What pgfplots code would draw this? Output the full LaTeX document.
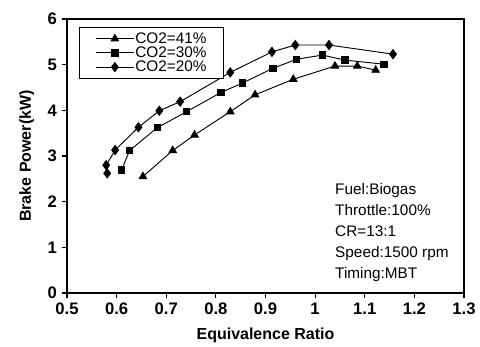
\documentclass[border=0pt]{standalone}
\usepackage{fontspec}
\setmainfont{Liberation Sans}
\usepackage{pgfplots}
\pgfplotsset{compat=1.18}
\begin{document}
\begin{tikzpicture}
\useasboundingbox (-50.25pt,-40.5pt) rectangle (309.75pt,219.75pt);
\begin{axis}[
  at={(0,0)}, anchor=south west,
  scale only axis, width=297.75pt, height=205.5pt,
  xmin=0.5, xmax=1.3, ymin=0, ymax=6,
  xtick={0.5,0.6,0.7,0.8,0.9,1,1.1,1.2,1.3},
  ytick={0,1,2,3,4,5,6},
  tick align=outside, tick pos=left,
  major tick length=4pt,
  tick style={black, line width=0.8pt},
  axis line style={line width=1pt},
  /pgf/number format/assume math mode=true,
  ticklabel style={font=\fontsize{12.5}{14}\selectfont\bfseries},
  xlabel={Equivalence Ratio},
  ylabel={Brake Power(kW)},
  label style={font=\fontsize{12}{14}\selectfont\bfseries},
  xlabel style={at={(axis description cs:0.5,-0.168)}, anchor=base},
  ylabel style={at={(axis description cs:-0.0907,0.5)}, anchor=base, rotate=0},
  legend style={at={(axis description cs:0.03,0.97)}, anchor=north west,
    draw=black, line width=0.8pt, font=\fontsize{11.5}{12}\selectfont,
    inner xsep=12pt, inner ysep=3pt, row sep=0pt,
    nodes={inner sep=0.8pt, text height=8pt, text depth=1pt}},
  legend cell align=left,
  legend image code/.code={\draw[mark repeat=2,mark phase=2] plot coordinates {(0cm,0cm)(0.5cm,0cm)(1cm,0cm)};},
]
\addplot[black, line width=0.7pt, mark=triangle*, mark size=3.2pt, mark options={solid,fill=black}] coordinates {
(0.653,2.55) (0.713,3.12) (0.757,3.46) (0.829,3.97) (0.879,4.34) (0.956,4.68) (1.040,4.97) (1.085,4.97) (1.122,4.88)};
\addlegendentry{CO2=41\%}
\addplot[black, line width=0.7pt, mark=square*, mark size=2.4pt, mark options={solid,fill=black}] coordinates {
(0.610,2.69) (0.626,3.12) (0.682,3.62) (0.741,3.97) (0.810,4.39) (0.854,4.60) (0.915,4.92) (0.963,5.12) (1.015,5.21) (1.060,5.10) (1.139,5.01)};
\addlegendentry{CO2=30\%}
\addplot[black, line width=0.7pt, mark=diamond*, mark size=3.4pt, mark options={solid,fill=black}] coordinates {
(0.581,2.62) (0.579,2.80) (0.597,3.13) (0.644,3.63) (0.686,3.99) (0.728,4.19) (0.829,4.83) (0.913,5.28) (0.960,5.43) (1.028,5.43) (1.157,5.23)};
\addlegendentry{CO2=20\%}
\node[anchor=north west, align=left, inner sep=0pt, font=\fontsize{11.5}{15.75}\selectfont] at (axis cs:1.04,2.41)
  {Fuel:Biogas\\Throttle:100\%\\CR=13:1\\Speed:1500 rpm\\Timing:MBT};
\end{axis}
\end{tikzpicture}
\end{document}
